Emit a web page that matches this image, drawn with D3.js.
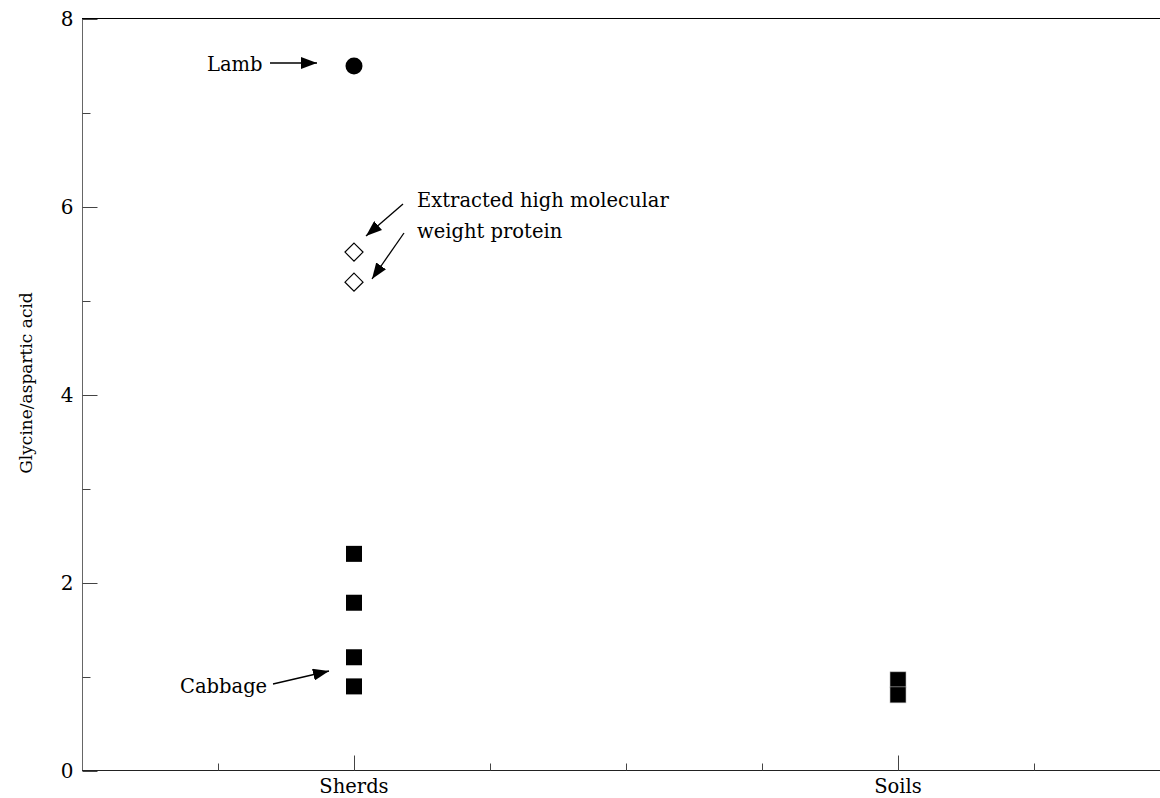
<!DOCTYPE html>
<html lang="en">
<head>
  <meta charset="utf-8">
  <title>Glycine/aspartic acid</title>
  <script src="https://cdn.jsdelivr.net/npm/d3@7"></script>
  <style>
    body { margin: 0; background: #fff; }
    svg text { font-family: "DejaVu Serif", serif; fill: #000; }
  </style>
</head>
<body>
  <svg id="chart" width="1160" height="798"></svg>
  <script>
    // groups on the x axis (positions in group units, 0..8)
    var groupNames = ['Sherds', 'Soils']
    var groupPos = [2, 6]
    var xTicks = [1, 2, 3, 4, 5, 6, 7]

    // y values
    var lambValues = [7.5]
    var proteinValues = [5.52, 5.2]
    var sherdValues = [2.31, 1.79, 1.21, 0.9]
    var soilValues = [0.97, 0.81]

    var yTicks = [0, 1, 2, 3, 4, 5, 6, 7, 8]

    var svg = d3.select('#chart')
    var x = d3.scaleLinear().domain([0, 8]).range([82, 1170])
    var y = d3.scaleLinear().domain([0, 8]).range([771, 19])

    var defs = svg.append('defs')
    defs.append('marker')
      .attr('id', 'head')
      .attr('viewBox', '0 0 16 12')
      .attr('refX', 16).attr('refY', 6)
      .attr('markerWidth', 16).attr('markerHeight', 12)
      .attr('markerUnits', 'userSpaceOnUse')
      .attr('orient', 'auto')
      .append('path').attr('d', 'M0,0L16,6L0,12Z').attr('fill', '#000')

    // frame: top line
    svg.append('line')
      .attr('x1', 82).attr('x2', 1160)
      .attr('y1', 18.5).attr('y2', 18.5)
      .attr('stroke', '#000')

    // y axis
    var yAxis = svg.append('g').attr('transform', 'translate(82.5,0)')
    yAxis.append('line').attr('y1', y(8)).attr('y2', y(0)).attr('stroke', '#666')
    yAxis.selectAll('.yt').data(yTicks).enter().append('line')
      .attr('x1', 0).attr('x2', function(d) { return d % 2 === 0 ? 15 : 8 })
      .attr('y1', function(d) { return Math.round(y(d)) + 0.5 })
      .attr('y2', function(d) { return Math.round(y(d)) + 0.5 })
      .attr('stroke', '#444')
    yAxis.selectAll('.yl').data(yTicks.filter(function(d) { return d % 2 === 0 })).enter().append('text')
      .attr('x', -9).attr('y', function(d) { return y(d) })
      .attr('dy', '0.36em')
      .attr('text-anchor', 'end')
      .attr('font-size', 20)
      .text(function(d) { return d })

    svg.append('text')
      .attr('transform', 'translate(32,383) rotate(-90)')
      .attr('text-anchor', 'middle')
      .attr('font-size', 17)
      .text('Glycine/aspartic acid')

    // x axis
    var xAxis = svg.append('g').attr('transform', 'translate(0,770.5)')
    xAxis.append('line').attr('x1', 82).attr('x2', 1160).attr('stroke', '#222')
    xAxis.selectAll('.xt').data(xTicks).enter().append('line')
      .attr('x1', function(d) { return Math.round(x(d)) + 0.5 })
      .attr('x2', function(d) { return Math.round(x(d)) + 0.5 })
      .attr('y1', 0)
      .attr('y2', function(d) { return groupPos.indexOf(d) >= 0 ? -15 : -7 })
      .attr('stroke', '#444')
    xAxis.selectAll('.xl').data(groupNames).enter().append('text')
      .attr('x', function(d, i) { return x(groupPos[i]) })
      .attr('y', 22)
      .attr('text-anchor', 'middle')
      .attr('font-size', 19.5)
      .text(function(d) { return d })

    // points
    var sq = 16
    svg.selectAll('.sherd').data(sherdValues).enter().append('rect')
      .attr('x', x(groupPos[0]) - sq / 2).attr('y', function(d) { return y(d) - sq / 2 })
      .attr('width', sq).attr('height', sq)
      .attr('fill', '#000')
    svg.selectAll('.soil').data(soilValues).enter().append('rect')
      .attr('x', x(groupPos[1]) - sq / 2).attr('y', function(d) { return y(d) - sq / 2 })
      .attr('width', sq).attr('height', sq)
      .attr('fill', '#000').attr('stroke', '#bbb').attr('stroke-width', 0.6)
    svg.selectAll('.lamb').data(lambValues).enter().append('circle')
      .attr('cx', x(groupPos[0])).attr('cy', function(d) { return y(d) })
      .attr('r', 8.5).attr('fill', '#000')
    svg.selectAll('.protein').data(proteinValues).enter().append('path')
      .attr('transform', function(d) { return 'translate(' + x(groupPos[0]) + ',' + y(d) + ')' })
      .attr('d', 'M0,-9L9,0L0,9L-9,0Z')
      .attr('fill', '#fff').attr('stroke', '#000').attr('stroke-width', 1.2)

    // annotations
    function arrow(x1, y1, x2, y2) {
      svg.append('line')
        .attr('x1', x1).attr('y1', y1).attr('x2', x2).attr('y2', y2)
        .attr('stroke', '#000').attr('stroke-width', 1.3)
        .attr('marker-end', 'url(#head)')
    }
    function label(tx, ty, txt) {
      svg.append('text').attr('x', tx).attr('y', ty).attr('font-size', 19.5).text(txt)
    }

    label(207, 71, 'Lamb')
    arrow(270, 63, 317, 63)

    label(417, 207, 'Extracted high molecular')
    label(417, 238, 'weight protein')
    arrow(403, 204, 366, 236)
    arrow(404, 233, 372, 279)

    label(180, 693, 'Cabbage')
    arrow(273, 684, 329, 671)
  </script>
</body>
</html>
